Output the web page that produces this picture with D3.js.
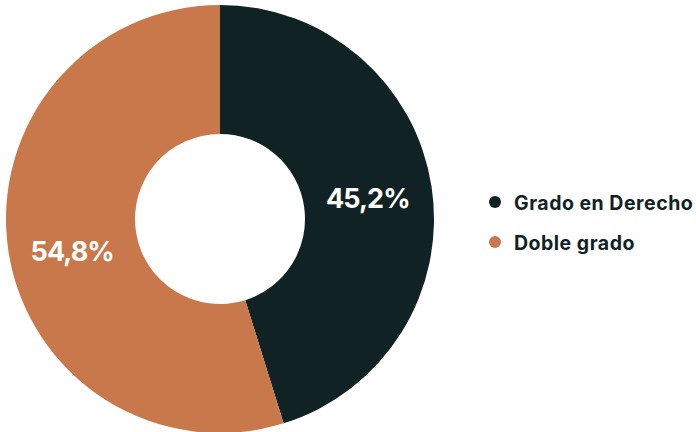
<!DOCTYPE html>
<html>
<head>
<meta charset="utf-8">
<script src="https://cdn.jsdelivr.net/npm/d3@7"></script>
<style>
  html, body { margin: 0; padding: 0; background: #ffffff; }
  svg { display: block; }
  text { font-family: Inter, "Noto Sans", sans-serif; }
</style>
</head>
<body>
<svg id="chart" width="696" height="432"></svg>
<script>
const categories = ["Grado en Derecho", "Doble grado"];
const values = [45.2, 54.8];
const colors = ["#112224", "#c8784a"];

const svg = d3.select("#chart");
const cx = 220, cy = 219, outerR = 214, innerR = 85;

const pie = d3.pie().sort(null).value(d => d.value);
const data = categories.map((c, i) => ({ name: c, value: values[i], color: colors[i] }));
const arcs = pie(data);
const arc = d3.arc().innerRadius(innerR).outerRadius(outerR);

const g = svg.append("g").attr("transform", `translate(${cx},${cy})`);

g.selectAll("path.slice")
  .data(arcs)
  .join("path")
  .attr("class", "slice")
  .attr("d", arc)
  .attr("fill", d => d.data.color);

const fmt = v => v.toFixed(1).replace(".", ",") + "%";

// value labels sit at the slice centroid; the lower-half label drops a little
g.selectAll("text.val")
  .data(arcs)
  .join("text")
  .attr("class", "val")
  .attr("transform", d => {
    const [x, y] = arc.centroid(d);
    return `translate(${x},${y + (y > 0 ? 10 : 1.5)})`;
  })
  .attr("text-anchor", "middle")
  .attr("dominant-baseline", "central")
  .attr("fill", "#ffffff")
  .attr("font-size", 27)
  .attr("font-weight", 700)
  .attr("letter-spacing", -0.9)
  .text(d => fmt(d.data.value));

// Legend
const legend = svg.append("g").attr("transform", "translate(495,202)");
const items = legend.selectAll("g.item")
  .data(data)
  .join("g")
  .attr("class", "item")
  .attr("transform", (d, i) => `translate(0,${i * 40})`);

items.append("circle")
  .attr("r", 6)
  .attr("fill", d => d.color);

items.append("text")
  .attr("x", 19)
  .attr("y", 1)
  .attr("dominant-baseline", "central")
  .attr("fill", "#112224")
  .attr("font-size", 19.5)
  .attr("font-weight", 700)
  .attr("letter-spacing", 0.5)
  .text(d => d.name);
</script>
</body>
</html>
